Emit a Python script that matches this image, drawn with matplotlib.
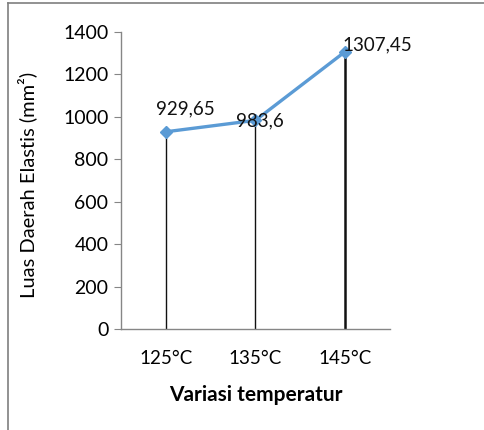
import matplotlib.pyplot as plt
from matplotlib.lines import Line2D

# data
categories = ["125°C", "135°C", "145°C"]
values = [929.65, 983.6, 1307.45]
labels = ["929,65", "983,6", "1307,45"]

plt.rcParams['font.family'] = ['Lato', 'DejaVu Sans']

fig = plt.figure(figsize=(4.85, 4.3), dpi=100)
ax = fig.add_axes([121 / 485, 101 / 430, 269 / 485, 297 / 430])

x = list(range(len(categories)))

# drop lines down to zero
drop_w = [1.0, 1.0, 1.8]
for xi, v, w in zip(x, values, drop_w):
    ax.plot([xi, xi], [0, v], color="#111111", lw=w, zorder=2)

ax.plot(x, values, color="#5B9BD5", lw=2.4, marker="D", markersize=6,
        markerfacecolor="#5B9BD5", markeredgecolor="#5B9BD5", zorder=3)

# data labels (offsets in pixels)
offsets = [(20, 23), (4, -1), (32, 7)]
for xi, v, lab, off in zip(x, values, labels, offsets):
    ax.annotate(lab, (xi, v), xytext=off, textcoords="offset pixels",
                ha="center", va="center", fontsize=13.5, color="#111111")

ax.set_xlim(-0.5, 2.5)
ax.set_ylim(0, 1400)
ax.set_yticks(range(0, 1401, 200))
ax.set_xticks(x)
ax.set_xticklabels(categories)
ax.tick_params(axis="y", length=5, color="#868686", labelsize=14, pad=4)
ax.tick_params(axis="x", length=0, labelsize=13.5, pad=15)

for s in ["top", "right"]:
    ax.spines[s].set_visible(False)
for s in ["left", "bottom"]:
    ax.spines[s].set_color("#868686")
    ax.spines[s].set_linewidth(1.0)

ax.set_ylabel("Luas Daerah Elastis (mm²)", fontsize=14.5)
ax.yaxis.set_label_coords(-0.31, 0.485)
ax.set_xlabel("Variasi temperatur", fontsize=15, fontweight="bold", labelpad=13)

# outer frame (partially cropped)
fig.add_artist(Line2D([8 / 485, 1], [1 - 3 / 430, 1 - 3 / 430],
                      transform=fig.transFigure, color="#7f7f7f", lw=1.2))
fig.add_artist(Line2D([8 / 485, 8 / 485], [0, 1 - 3 / 430],
                      transform=fig.transFigure, color="#7f7f7f", lw=1.2))

fig.savefig("out.png", dpi=100)
